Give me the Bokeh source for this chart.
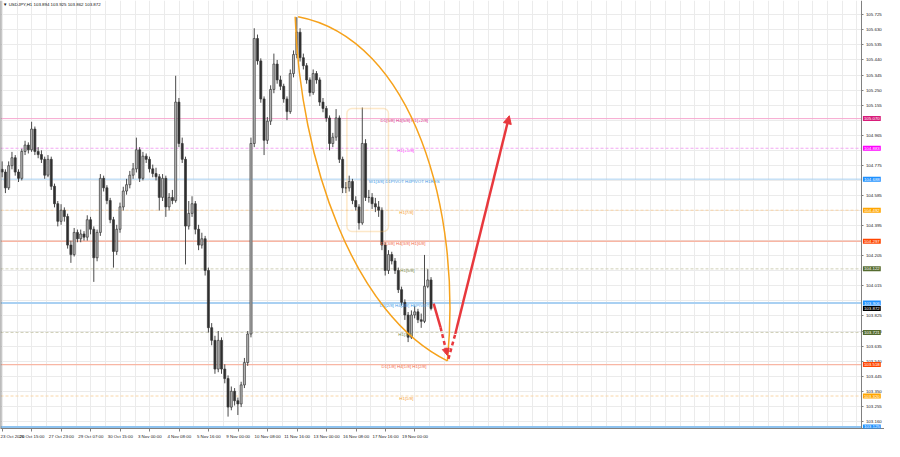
from bokeh.plotting import figure
from bokeh.models import (Range1d, FixedTicker, PrintfTickFormatter, Span, Label,
                          BoxAnnotation, Arrow, NormalHead, ColumnDataSource)
from bokeh.core.properties import value
from bokeh.embed import file_html
from bokeh.resources import INLINE

FONT = "Liberation Sans"
FS = "4.4px"

first_open = 104.750
closes = [
    104.733, 104.633, 104.773, 104.823, 104.733, 104.693, 104.863, 104.903, 104.873, 105.004,
    104.863, 104.843, 104.813, 104.713, 104.813, 104.643, 104.533, 104.422, 104.492, 104.452,
    104.272, 104.212, 104.352, 104.312, 104.342, 104.322, 104.432, 104.372, 104.192, 104.352,
    104.693, 104.633, 104.553, 104.432, 104.232, 104.372, 104.513, 104.613, 104.653, 104.713,
    104.753, 104.873, 104.693, 104.833, 104.813, 104.753, 104.723, 104.703, 104.573, 104.693,
    104.513, 104.573, 104.553, 105.174, 104.913, 104.813, 104.392, 104.472, 104.533, 104.372,
    104.272, 104.312, 104.112, 103.751, 103.671, 103.490, 103.671, 103.490, 103.430, 103.250,
    103.350, 103.290, 103.270, 103.390, 103.531, 103.711, 104.913, 105.575, 105.434, 105.194,
    104.933, 105.054, 105.254, 105.414, 105.314, 105.274, 105.194, 105.114, 105.354, 105.474,
    105.615, 105.454, 105.404, 105.314, 105.234, 105.354, 105.314, 105.174, 105.134, 105.074,
    104.913, 104.953, 105.074, 104.813, 104.633, 104.633, 104.673, 104.553, 104.513, 104.412,
    104.913, 104.573, 104.573, 104.533, 104.513, 104.492, 104.272, 104.112, 104.212, 104.172,
    104.112, 103.991, 103.911, 103.831, 103.691, 103.831, 103.851, 103.801, 103.791, 104.012,
    104.052, 103.872,
]
highs = [
    104.80, 104.75, 104.80, 104.86, 104.84, 104.75, 104.88, 104.93, 104.92, 105.05,
    105.02, 104.89, 104.87, 104.83, 104.84, 104.83, 104.66, 104.55, 104.53, 104.51,
    104.47, 104.30, 104.38, 104.37, 104.37, 104.36, 104.46, 104.45, 104.39, 104.37,
    104.72, 104.71, 104.65, 104.57, 104.45, 104.40, 104.54, 104.64, 104.69, 104.74,
    104.79, 104.95, 104.89, 104.86, 104.85, 104.83, 104.78, 104.76, 104.72, 104.72,
    104.71, 104.60, 104.62, 105.34, 105.20, 104.95, 104.83, 104.55, 104.58, 104.55,
    104.40, 104.35, 104.33, 104.13, 103.78, 103.70, 103.73, 103.69, 103.52, 103.45,
    103.38, 103.37, 103.31, 103.41, 103.56, 103.73, 104.95, 105.64, 105.60, 105.45,
    105.21, 105.08, 105.28, 105.48, 105.44, 105.34, 105.29, 105.21, 105.38, 105.50,
    105.71, 105.64, 105.48, 105.42, 105.33, 105.38, 105.37, 105.33, 105.20, 105.15,
    105.09, 104.98, 105.13, 105.09, 104.83, 104.67, 104.71, 104.69, 104.58, 104.53,
    105.14, 104.94, 104.62, 104.60, 104.57, 104.55, 104.51, 104.29, 104.24, 104.23,
    104.19, 104.13, 104.01, 103.93, 103.85, 103.86, 103.89, 103.87, 103.84, 104.21,
    104.12, 104.07,
]
lows = [
    104.70, 104.60, 104.62, 104.75, 104.71, 104.67, 104.68, 104.84, 104.85, 104.86,
    104.84, 104.82, 104.79, 104.69, 104.70, 104.62, 104.51, 104.39, 104.40, 104.42,
    104.25, 104.16, 104.20, 104.29, 104.29, 104.30, 104.30, 104.34, 104.04, 104.17,
    104.33, 104.61, 104.53, 104.41, 104.13, 104.21, 104.35, 104.49, 104.59, 104.63,
    104.69, 104.73, 104.67, 104.68, 104.79, 104.73, 104.70, 104.68, 104.49, 104.55,
    104.45, 104.49, 104.53, 104.54, 104.89, 104.79, 104.15, 104.37, 104.45, 104.34,
    104.24, 104.25, 104.08, 103.72, 103.64, 103.46, 103.47, 103.46, 103.40, 103.19,
    103.23, 103.26, 103.20, 103.25, 103.37, 103.51, 103.69, 104.89, 105.41, 105.17,
    104.84, 104.91, 105.03, 105.23, 105.29, 105.25, 105.17, 105.06, 105.10, 105.33,
    105.45, 105.43, 105.38, 105.29, 105.21, 105.22, 105.29, 105.15, 105.11, 105.05,
    104.87, 104.89, 104.93, 104.79, 104.60, 104.60, 104.61, 104.53, 104.49, 104.37,
    104.40, 104.55, 104.54, 104.50, 104.48, 104.45, 104.24, 104.08, 104.09, 104.15,
    104.09, 103.97, 103.89, 103.80, 103.66, 103.68, 103.81, 103.78, 103.75, 103.78,
    104.00, 103.86,
]

# ---- axis ticks ----
date_labels = ["23 Oct 2020", "26 Oct 15:00", "27 Oct 23:00", "29 Oct 07:00", "30 Oct 15:00",
               "3 Nov 00:00", "4 Nov 08:00", "5 Nov 16:00", "9 Nov 00:00", "10 Nov 08:00",
               "11 Nov 16:00", "13 Nov 00:00", "16 Nov 08:00", "17 Nov 16:00", "19 Nov 00:00"]
date_pos = [0.6, 9.6, 18.6, 27.6, 36.6, 45.6, 54.6, 63.6, 72.6, 81.6, 90.6, 99.6,
            108.6, 117.6, 126.6]
price_ticks = [103.160, 103.255, 103.350, 103.445, 103.540, 103.635, 103.730, 103.825,
               103.920, 104.015, 104.110, 104.205, 104.300, 104.395, 104.490, 104.585,
               104.680, 104.775, 104.870, 104.965, 105.060, 105.155, 105.250, 105.345,
               105.440, 105.535, 105.630, 105.725]
hidden_ticks = [103.920, 104.110, 104.300, 104.490, 104.680, 104.870, 105.060]

# ---- level lines ----
level_prices = [105.070, 104.883, 104.688, 104.492, 104.297, 104.122, 103.906,
                103.721, 103.518, 103.320, 103.125]
level_texts = ["D1[5/8] H4[5/8] H1[+2/8]", "H1[+1/8]", "W1[3/8] D1PIVOT H4PIVOT H1RES",
               "H1[7/8]", "D1[3/8] H4[3/8] H1[6/8]", "H1[5/8]", "D1[2/8] H4[2/8] H1PIVOT",
               "H1[3/8]", "D1[1/8] H4[1/8] H1[2/8]", "H1[1/8]", ""]
level_text_x = [116.1, 121.2, 112.5, 121.8, 116.1, 122.1, 115.8, 121.5, 116.4, 121.8, 116.0]
level_line_colors = ["#f7a8d0", "#f2a6f2", "#a9d0f2", "#f8d2a4", "#f8b6a4", "#cfcfb6",
                     "#a9d0f2", "#cfcfb6", "#f8b6a4", "#f8d6a8", "#8ec3f0"]
level_line_dash = ["solid", "3 2", "solid", "3 2", "solid", "3 2", "solid", "3 2",
                   "solid", "3 2", "solid"]
level_line_width = [1, 1, 1, 1, 1.5, 1, 2, 1, 1.2, 1, 2]
level_text_colors = ["#e02c8c", "#ff33ff", "#3d9be9", "#f5a030", "#f26a4b", "#7a8a4a",
                     "#3d9be9", "#7a8a4a", "#f26a4b", "#f5a030", "#3d9be9"]
marker_prices = [105.070, 104.883, 104.688, 104.492, 104.297, 104.122, 103.906, 103.872,
                 103.721, 103.518, 103.320, 103.125]
marker_colors = ["#d81b79", "#ff00ff", "#1e90ff", "#ffa500", "#ff4500", "#556b2f",
                 "#1e90ff", "#000000", "#556b2f", "#ff4500", "#ffa500", "#1e90ff"]

# ---- drawings ----
arc_inner = dict(x0=90.0, y0=105.713, cx0=91.5, cy0=104.793, cx1=108.0, cy1=103.831,
                 x1=136.5, y1=103.542)
arc_outer = dict(x0=90.9, y0=105.713, cx0=126.0, cy0=105.575, cx1=141.0, cy1=104.492,
                 x1=136.5, y1=103.542)
box_zone = dict(left=105.8, right=118.5, top=105.134, bottom=104.358)
arrow_down = [(132.3, 103.903, 134.4, 103.753), (134.4, 103.753, 136.5, 103.575)]
arrow_up = [(136.8, 103.554, 138.9, 103.711), (138.9, 103.711, 155.4, 105.088)]

X_END = 270.0      # right edge of the window
X_AXIS = 263.1     # where the price scale starts

p = figure(width=884, height=441, x_range=Range1d(0, X_END),
           y_range=Range1d(103.115, 105.815), y_axis_location="right",
           output_backend="svg", toolbar_location=None,
           min_border_left=0, min_border_top=0, min_border_right=0, min_border_bottom=0)
p.outline_line_color = None
p.background_fill_color = "white"
p.border_fill_color = "white"

p.xgrid.ticker = FixedTicker(ticks=[0.6 + 4.5 * k for k in range(59)])
p.ygrid.ticker = FixedTicker(ticks=price_ticks)
p.xgrid.grid_line_color = "#ebebeb"
p.ygrid.grid_line_color = "#ebebeb"

# white strip behind the price scale
p.add_layout(BoxAnnotation(left=X_AXIS, right=X_END + 5, fill_color="white", fill_alpha=1,
                           line_color=None, level="underlay"))
# left border of the chart
p.add_layout(Span(location=0.05, dimension="height", line_color="#7a7a7a", line_width=1.5))

p.xaxis.ticker = FixedTicker(ticks=date_pos)
p.xaxis.major_label_overrides = {pos: lab for pos, lab in zip(date_pos, date_labels)}
p.xaxis.major_label_text_align = "left"
p.xaxis.major_label_text_font_size = FS
p.xaxis.major_label_text_font = FONT
p.xaxis.major_label_text_color = "#222"
p.xaxis.major_label_standoff = 2
p.xaxis.major_tick_in = 0
p.xaxis.major_tick_out = 3
p.xaxis.minor_tick_line_color = None
p.xaxis.axis_line_color = "#808080"
p.xaxis.major_tick_line_color = "#808080"

p.yaxis.fixed_location = X_AXIS
p.yaxis.ticker = FixedTicker(ticks=[t for t in price_ticks if t not in hidden_ticks])
p.yaxis.formatter = PrintfTickFormatter(format="%.3f")
p.yaxis.major_label_text_font_size = FS
p.yaxis.major_label_text_font = FONT
p.yaxis.major_label_text_color = "#222"
p.yaxis.major_label_standoff = 2
p.yaxis.major_tick_in = 0
p.yaxis.major_tick_out = 2
p.yaxis.minor_tick_line_color = None
p.yaxis.axis_line_color = "#808080"
p.yaxis.major_tick_line_color = "#808080"

# level lines
for pr, col, dash, lw in zip(level_prices, level_line_colors, level_line_dash, level_line_width):
    p.segment(x0=[0], y0=[pr], x1=[X_AXIS], y1=[pr], line_color=col, line_dash=dash,
              line_width=lw)

# candles
opens = [first_open] + closes[:-1]
bar_x = [i + 0.5 for i in range(len(closes))]
src = ColumnDataSource(dict(
    x=bar_x, o=opens, c=closes, h=highs, l=lows,
    top=[max(a, b) for a, b in zip(opens, closes)],
    bottom=[min(a, b) for a, b in zip(opens, closes)],
    fill=["#b8b8b8" if c >= o else "#2e2e2e" for o, c in zip(opens, closes)],
))
p.segment(x0="x", y0="h", x1="x", y1="l", source=src, line_color="#4a4a4a", line_width=1)
p.vbar(x="x", width=0.62, top="top", bottom="bottom", source=src, fill_color="fill",
       line_color="#3a3a3a", line_width=0.7)

# level texts
p.text(x=level_text_x, y=level_prices, text=level_texts, text_color=level_text_colors,
       text_font=value(FONT), text_font_size=FS, text_baseline="middle",
       text_align="left", y_offset=2)

# orange arcs and zone
orange = "#f6a21c"
p.bezier(x0=[arc_inner["x0"], arc_outer["x0"]], y0=[arc_inner["y0"], arc_outer["y0"]],
         x1=[arc_inner["x1"], arc_outer["x1"]], y1=[arc_inner["y1"], arc_outer["y1"]],
         cx0=[arc_inner["cx0"], arc_outer["cx0"]], cy0=[arc_inner["cy0"], arc_outer["cy0"]],
         cx1=[arc_inner["cx1"], arc_outer["cx1"]], cy1=[arc_inner["cy1"], arc_outer["cy1"]],
         line_color=orange, line_width=1.5)
p.add_layout(BoxAnnotation(left=box_zone["left"], right=box_zone["right"],
                           top=box_zone["top"], bottom=box_zone["bottom"],
                           fill_alpha=0, line_color="#f7b448", line_width=1.5,
                           border_radius=5))

# red arrows
red = "#e8383d"
for (xs, ys, xe, ye), dash, head in zip(arrow_down, ["solid", "4 3"], [False, True]):
    p.add_layout(Arrow(x_start=xs, y_start=ys, x_end=xe, y_end=ye, line_color=red,
                       line_width=2.5, line_dash=dash,
                       end=NormalHead(size=7, fill_color=red, line_color=red) if head else None))
for (xs, ys, xe, ye), dash, head in zip(arrow_up, ["4 3", "solid"], [False, True]):
    p.add_layout(Arrow(x_start=xs, y_start=ys, x_end=xe, y_end=ye, line_color=red,
                       line_width=2.5, line_dash=dash,
                       end=NormalHead(size=8, fill_color=red, line_color=red) if head else None))

# price markers on the axis
for pr, col in zip(marker_prices, marker_colors):
    p.add_layout(Label(x=X_AXIS, y=pr, x_offset=1, text=f"{pr:.3f}", text_color="white",
                       text_font=FONT, text_font_size=FS, text_baseline="middle",
                       text_align="left", background_fill_color=col, padding=1))

# title
p.add_layout(Label(x=0.8, y=105.791, text="\u25bc USDJPY,H1  103.894 103.925 103.862 103.872",
                   text_font=FONT, text_font_size=FS, text_color="#111",
                   text_baseline="middle"))

open("out.html", "w").write(file_html(p, INLINE))
